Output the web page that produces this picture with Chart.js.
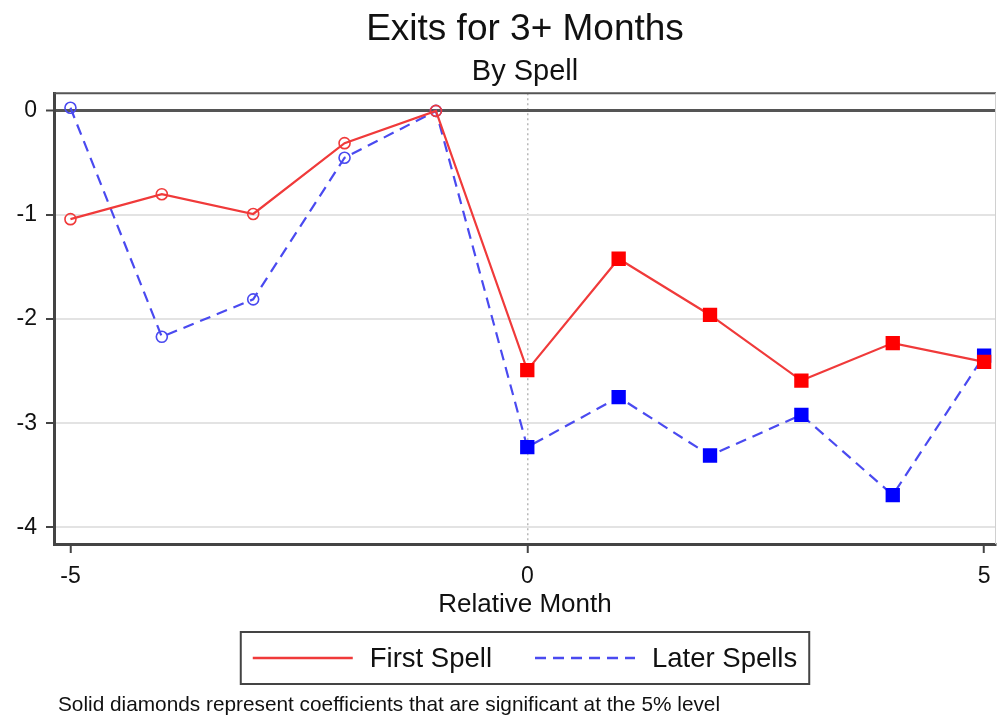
<!DOCTYPE html>
<html lang="en">
<head>
    <meta charset="UTF-8">
    <title>Exits for 3+ Months</title>
    <script src="https://cdn.jsdelivr.net/npm/chart.js"></script>
    <style>
        html, body { margin: 0; padding: 0; background: #fff; }
        .chart-box { width: 997px; height: 721px; position: relative; }
    </style>
</head>
<body>
    <div class="chart-box"><canvas id="exitChart"></canvas></div>

    <script>
        // values
        const relMonths = [-5, -4, -3, -2, -1, 0, 1, 2, 3, 4, 5];
        const firstSpell = [-1.04, -0.80, -0.99, -0.31, 0, -2.49, -1.42, -1.96, -2.59, -2.23, -2.41];
        const laterSpells = [0.03, -2.17, -1.81, -0.45, 0, -3.23, -2.75, -3.31, -2.92, -3.69, -2.35];
        const xTickValues = [-5, 0, 5];
        const yTickValues = [-4, -3, -2, -1, 0];
        const footnote = 'Solid diamonds represent coefficients that are significant at the 5% level';

        const FONT = '"Liberation Sans", Arial, Helvetica, sans-serif';

        // hollow circles before month 0, filled squares from month 0 on
        function markerStyle(ctx) {
            return relMonths[ctx.dataIndex] < 0 ? 'circle' : 'rect';
        }
        function markerRadius(ctx) {
            return relMonths[ctx.dataIndex] < 0 ? 5.5 : 9;
        }

        function makeSeries(label, values, lineColor, fillColor, dash) {
            return {
                label: label,
                data: relMonths.map((m, i) => ({ x: m, y: values[i] })),
                borderColor: lineColor,
                borderWidth: 2.2,
                borderDash: dash,
                tension: 0,
                fill: false,
                pointStyle: markerStyle,
                pointRadius: markerRadius,
                pointHoverRadius: markerRadius,
                pointBorderWidth: 1.6,
                pointBorderColor: ctx => relMonths[ctx.dataIndex] < 0 ? lineColor : fillColor,
                pointBackgroundColor: ctx => relMonths[ctx.dataIndex] < 0 ? 'rgba(0,0,0,0)' : fillColor
            };
        }

        // frame, legend box and footnote
        const extrasPlugin = {
            id: 'extras',
            beforeDatasetsDraw(chart) {
                const { ctx, chartArea: a } = chart;
                ctx.save();
                ctx.strokeStyle = '#555';
                ctx.lineWidth = 2;
                ctx.beginPath();
                ctx.moveTo(a.left, a.top);
                ctx.lineTo(a.right, a.top);
                ctx.stroke();
                ctx.strokeStyle = '#d0d0d0';
                ctx.lineWidth = 1;
                ctx.beginPath();
                ctx.moveTo(a.right - 0.5, a.top);
                ctx.lineTo(a.right - 0.5, a.bottom);
                ctx.stroke();
                ctx.restore();
            },
            afterDraw(chart) {
                const { ctx, chartArea: a } = chart;
                ctx.save();
                ctx.font = '27.5px ' + FONT;
                const lineLen = 100, gapText = 17, gapItem = 43, padX = 12;
                const items = chart.data.datasets.map(ds => ({ ds: ds, w: ctx.measureText(ds.label).width }));
                let total = padX * 2 + gapItem * (items.length - 1);
                items.forEach(it => { total += lineLen + gapText + it.w; });
                const boxTop = a.bottom + 88, boxH = 52;
                let x = (a.left + a.right) / 2 - total / 2;

                ctx.strokeStyle = '#444';
                ctx.lineWidth = 2;
                ctx.strokeRect(x, boxTop, total, boxH);

                const midY = boxTop + boxH / 2;
                x += padX;
                items.forEach(it => {
                    ctx.strokeStyle = it.ds.borderColor;
                    ctx.lineWidth = 2.5;
                    ctx.setLineDash(it.ds.borderDash || []);
                    ctx.beginPath();
                    ctx.moveTo(x, midY);
                    ctx.lineTo(x + lineLen, midY);
                    ctx.stroke();
                    ctx.setLineDash([]);
                    x += lineLen + gapText;
                    ctx.fillStyle = '#111';
                    ctx.textBaseline = 'middle';
                    ctx.textAlign = 'left';
                    ctx.fillText(it.ds.label, x, midY + 1);
                    x += it.w + gapItem;
                });

                ctx.font = '20.8px ' + FONT;
                ctx.fillStyle = '#111';
                ctx.textBaseline = 'middle';
                ctx.fillText(footnote, 58, chart.height - 16);
                ctx.restore();
            }
        };

        const ctx = document.getElementById('exitChart').getContext('2d');
        const exitChart = new Chart(ctx, {
            type: 'line',
            data: {
                datasets: [
                    makeSeries('First Spell', firstSpell, '#f03a3a', '#ff0000', []),
                    makeSeries('Later Spells', laterSpells, '#4a4af0', '#0000ff', [11, 7])
                ]
            },
            options: {
                responsive: true,
                maintainAspectRatio: false,
                animation: false,
                layout: { autoPadding: false, padding: { left: 0, right: 1, top: 0, bottom: 101 } },
                plugins: {
                    legend: { display: false },
                    tooltip: { enabled: false },
                    title: {
                        display: true,
                        fullSize: false,
                        text: 'Exits for 3+ Months',
                        color: '#111',
                        font: { family: FONT, size: 37, weight: 'normal' },
                        padding: { top: 8, bottom: 1 }
                    },
                    subtitle: {
                        display: true,
                        fullSize: false,
                        text: 'By Spell',
                        color: '#111',
                        font: { family: FONT, size: 29, weight: 'normal' },
                        padding: { top: 1, bottom: 4 }
                    }
                },
                scales: {
                    x: {
                        type: 'linear',
                        min: -5.18,
                        max: 5.13,
                        afterBuildTicks: scale => { scale.ticks = xTickValues.map(v => ({ value: v })); },
                        afterFit: scale => {
                            scale.height = 76;
                            scale.paddingLeft = 0;
                            scale.paddingRight = 0;
                        },
                        ticks: {
                            color: '#111',
                            padding: 10,
                            font: { family: FONT, size: 23 },
                            maxRotation: 0
                        },
                        grid: {
                            color: c => (c.tick && c.tick.value === 0) ? '#b8b8b8' : 'rgba(0,0,0,0)',
                            lineWidth: 1.5,
                            tickColor: '#444',
                            tickWidth: 2,
                            tickLength: 9
                        },
                        border: {
                            display: true,
                            color: '#444',
                            width: 3,
                            dash: c => (c.tick && c.tick.value === 0) ? [2, 3] : []
                        },
                        title: {
                            display: true,
                            text: 'Relative Month',
                            color: '#111',
                            font: { family: FONT, size: 26 },
                            padding: { top: 0, bottom: 0 }
                        }
                    },
                    y: {
                        min: -4.16,
                        max: 0.17,
                        afterBuildTicks: scale => { scale.ticks = yTickValues.map(v => ({ value: v })); },
                        afterFit: scale => { scale.width = 54; },
                        ticks: {
                            color: '#111',
                            padding: 9,
                            font: { family: FONT, size: 23 }
                        },
                        grid: {
                            color: c => (c.tick && c.tick.value === 0) ? '#555' : '#e3e3e3',
                            lineWidth: c => (c.tick && c.tick.value === 0) ? 3 : 2,
                            tickColor: '#444',
                            tickWidth: 2,
                            tickLength: 8
                        },
                        border: { display: true, color: '#444', width: 3 }
                    }
                }
            },
            plugins: [extrasPlugin]
        });
    </script>
</body>
</html>
